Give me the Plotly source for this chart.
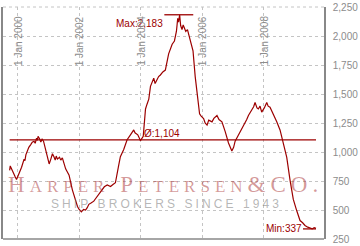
import plotly.graph_objects as go

dates = ["1999-09-25","1999-10-02","1999-10-09","1999-10-20","1999-10-29","1999-11-17","1999-12-01","1999-12-16",
         "2000-01-16","2000-02-01","2000-02-14","2000-03-15","2000-03-25","2000-04-05","2000-04-24","2000-05-10","2000-06-02",
         "2000-06-20","2000-07-11","2000-07-25","2000-08-10","2000-08-20","2000-08-28","2000-09-15","2000-09-30",
         "2000-10-15","2000-11-01","2000-11-28","2000-12-20","2001-01-07","2001-01-27","2001-02-15","2001-03-05","2001-03-20",
         "2001-04-01","2001-04-15","2001-05-10","2001-05-25","2001-06-13","2001-07-01","2001-07-22","2001-08-10","2001-09-01",
         "2001-10-10","2001-11-19","2001-12-10","2001-12-28","2002-01-25","2002-02-20","2002-03-16","2002-04-05","2002-04-24",
         "2002-05-20","2002-06-22","2002-07-10","2002-08-02","2002-09-01","2002-10-01","2002-10-25","2002-11-29","2003-01-07",
         "2003-02-05","2003-03-06","2003-04-10","2003-05-04","2003-06-13","2003-07-01","2003-07-23","2003-09-01","2003-09-20","2003-10-10",
         "2003-10-25","2003-11-27","2003-12-15","2003-12-29","2004-01-31","2004-02-27","2004-03-15","2004-04-06","2004-04-26",
         "2004-05-15","2004-06-04","2004-06-20","2004-07-14","2004-08-01","2004-08-22","2004-09-20","2004-10-20","2004-11-10","2004-11-28","2005-01-09",
         "2005-02-05","2005-03-01","2005-03-16","2005-03-26","2005-04-08","2005-04-20","2005-05-06","2005-05-20","2005-06-03",
         "2005-06-20","2005-07-10","2005-08-12","2005-09-14","2005-10-10","2005-11-07","2005-12-01",
         "2005-12-20","2006-01-18","2006-02-05","2006-02-28","2006-03-20","2006-04-28","2006-05-20","2006-06-26","2006-07-20","2006-08-24","2006-10-02",
         "2006-11-10","2006-12-20","2007-01-10","2007-01-28","2007-02-25","2007-03-28","2007-04-25","2007-05-27","2007-06-15","2007-07-05",
         "2007-08-14","2007-09-05","2007-09-22","2007-10-15","2007-10-31","2007-11-20","2007-12-10","2008-01-10","2008-02-08","2008-02-25","2008-03-18",
         "2008-04-10","2008-04-27","2008-05-15","2008-06-06","2008-07-15","2008-08-24","2008-10-03","2008-11-11",
         "2008-12-20","2009-01-30","2009-03-10","2009-04-10","2009-05-08","2009-06-10","2009-07-06","2009-08-01",
         "2009-08-25","2009-09-16"]
values = [842, 880, 869, 850, 827, 800, 785, 763,
          813, 845, 869, 939, 925, 975, 1022, 1040, 1064,
          1085, 1093, 1075, 1120, 1100, 1134, 1115, 1087,
          1110, 1093, 1009, 950, 897, 939, 985, 959, 930,
          965, 939, 955, 930, 950, 897, 855, 830, 800,
          674, 576, 530, 507, 484, 505, 499, 520, 549,
          560, 576, 595, 618, 640, 674, 700, 716, 702,
          720, 735, 869, 959, 1022, 1060, 1106, 1148, 1175, 1190,
          1165, 1148, 1120, 1098, 1135, 1371, 1410, 1455, 1566,
          1600, 1637, 1590, 1622, 1650, 1664, 1690, 1706, 1790, 1846, 1929,
          1957, 2041, 2152, 2120, 2183, 2090, 2055, 2095, 2068,
          2040, 2055, 1971, 1873, 1650, 1455, 1329,
          1310, 1288, 1250, 1232, 1275, 1260, 1290, 1315, 1280, 1260, 1176,
          1078, 1009, 1040, 1093, 1130, 1176, 1210, 1246, 1280, 1315,
          1357, 1390, 1427, 1380, 1371, 1395, 1344, 1380, 1427, 1395, 1386,
          1350, 1329, 1300, 1260, 1190, 1078, 953, 758,
          591, 493, 409, 390, 367, 352, 345, 337,
          348, 342]

AVG = 1104
MAX_VAL = 2183
MIN_VAL = 337
max_span = ["2004-10-08", "2005-09-17"]
min_span = ["2009-04-14", "2009-09-16"]

y_ticks = [250, 500, 750, 1000, 1250, 1500, 1750, 2000, 2250]
y_labels = ["250", "500", "750", "1,000", "1,250", "1,500", "1,750", "2,000", "2,250"]
x_ticks = ["2000-01-01", "2002-01-01", "2004-01-01", "2006-01-01", "2008-01-01"]
x_labels = ["1 Jan 2000", "1 Jan 2002", "1 Jan 2004", "1 Jan 2006", "1 Jan 2008"]

RED = "#9c0000"
GRAY = "#8c8c8c"
GRID = "#c4c4c4"
FONT = "Liberation Sans"

fig = go.Figure()
fig.add_trace(go.Scatter(x=dates, y=values, mode="lines",
                         line=dict(color=RED, width=1.2), hoverinfo="skip"))
fig.add_trace(go.Scatter(x=[dates[0], dates[-1]], y=[AVG, AVG], mode="lines",
                         line=dict(color=RED, width=1.3), hoverinfo="skip"))
fig.add_trace(go.Scatter(x=max_span, y=[MAX_VAL, MAX_VAL], mode="lines",
                         line=dict(color=RED, width=1.3), hoverinfo="skip"))
fig.add_trace(go.Scatter(x=min_span, y=[MIN_VAL, MIN_VAL], mode="lines",
                         line=dict(color=RED, width=1.3), hoverinfo="skip"))

ann = [
    dict(text="Max:2,183", x=max_span[0], y=2108, xanchor="right", yanchor="middle"),
    dict(text="\u00d8:1,104", x="2004-02-03", y=AVG, xanchor="left", yanchor="bottom"),
    dict(text="Min:337", x=min_span[0], y=MIN_VAL, xanchor="right", yanchor="middle"),
]
annotations = []
for a in ann:
    a.update(xref="x", yref="y", showarrow=False, borderpad=0,
             font=dict(family=FONT, size=10, color=RED))
    annotations.append(a)

for xv, lab in zip(x_ticks, x_labels):
    annotations.append(dict(text=lab, x=xv, y=1, xref="x", yref="paper",
                            xanchor="center", yanchor="top", yshift=-8,
                            textangle=-90, showarrow=False, borderpad=0,
                            font=dict(family=FONT, size=10, color=GRAY)))

big = 23
small = 17
wm = ("H<span style='font-size:%dpx'>ARPER</span> P<span style='font-size:%dpx'>ETERSEN</span>&amp;CO."
      % (small, small))
annotations.append(dict(text="<span style='letter-spacing:5px'>" + wm + "</span>",
                        x=0.505, y=0.236, xref="paper", yref="paper",
                        xanchor="center", yanchor="middle", showarrow=False,
                        font=dict(family="Liberation Serif", size=big,
                                  color="rgba(165,40,40,0.47)")))
annotations.append(dict(text="<span style='letter-spacing:3.1px'>SHIP BROKERS SINCE 1943</span>",
                        x=0.51, y=0.150, xref="paper", yref="paper",
                        xanchor="center", yanchor="middle", showarrow=False,
                        font=dict(family=FONT, size=12, color="rgba(120,120,120,0.55)")))

fig.update_layout(
    width=360, height=246,
    margin=dict(l=1, r=36, t=5, b=2),
    paper_bgcolor="white", plot_bgcolor="white",
    showlegend=False,
    annotations=annotations,
    shapes=[dict(type="line", xref="paper", yref="paper", x0=0, x1=1, y0=0, y1=0,
                 line=dict(color="#888888", width=1.5)),
            dict(type="line", xref="paper", yref="paper", x0=0, x1=1, y0=1, y1=1,
                 line=dict(color=GRID, width=1, dash="3px,3px"), layer="below")],
)
fig.update_xaxes(type="date", range=["1999-07-08", "2009-12-20"],
                 tickvals=x_ticks, showticklabels=False, ticks="",
                 showgrid=True, gridcolor=GRID, griddash="3px,3px", gridwidth=1,
                 showline=False, zeroline=False)
fig.update_yaxes(range=[250, 2250], side="right", tickvals=y_ticks, ticktext=y_labels,
                 showgrid=True, gridcolor=GRID, griddash="3px,3px", gridwidth=1,
                 showline=True, mirror=True, linecolor="#888888", linewidth=1.5,
                 ticks="", ticklabelstandoff=5, zeroline=False, ticklabeloverflow="allow",
                 tickfont=dict(family=FONT, size=10, color=GRAY))

fig.write_html("out.html")
